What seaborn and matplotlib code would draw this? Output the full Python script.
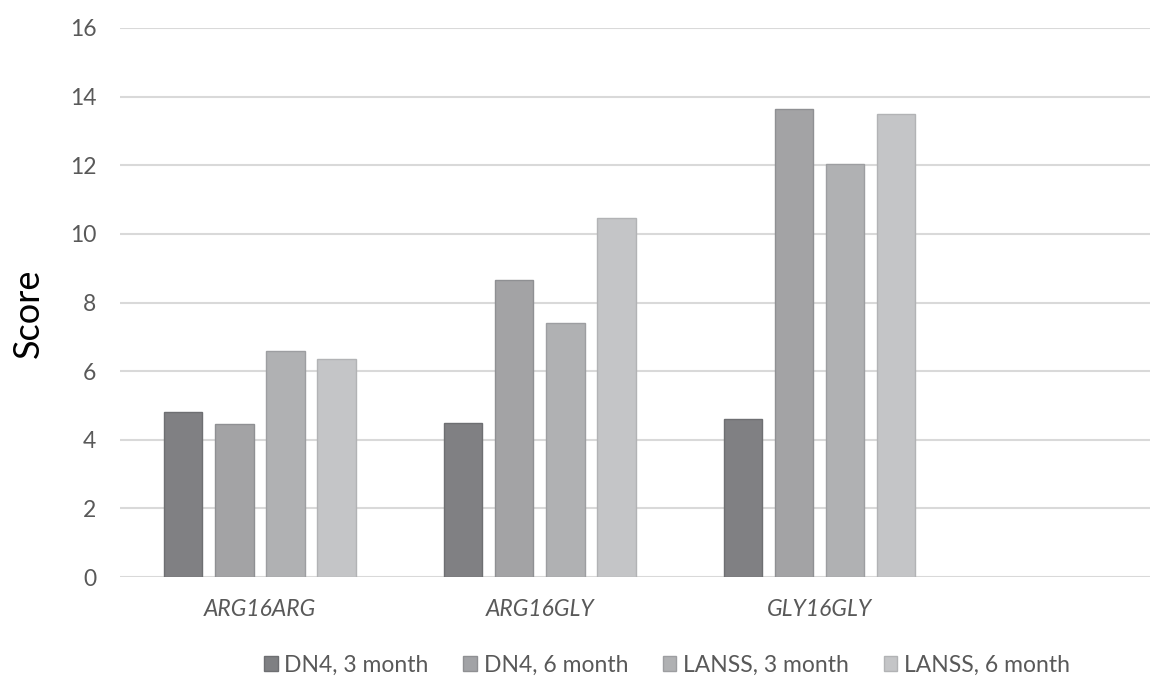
import pandas as pd
import numpy as np
import seaborn as sns
import matplotlib.pyplot as plt

# data
genotypes = ['ARG16ARG', 'ARG16GLY', 'GLY16GLY']
series = ['DN4, 3 month', 'DN4, 6 month', 'LANSS, 3 month', 'LANSS, 6 month']
dn4_3m = [4.8, 4.5, 4.6]
dn4_6m = [4.45, 8.65, 13.65]
lanss_3m = [6.6, 7.4, 12.05]
lanss_6m = [6.35, 10.45, 13.5]
colors = ['#7f8083', '#a2a3a6', '#b0b1b3', '#c4c5c7']
edges = ['#6e6f72', '#8f9093', '#9d9ea1', '#b2b3b5']

df = pd.DataFrame({'genotype': genotypes * 4,
                   'series': np.repeat(series, 3),
                   'score': dn4_3m + dn4_6m + lanss_3m + lanss_6m})

sns.set_theme(style='white')
plt.rcParams['font.family'] = ['Lato', 'DejaVu Sans']

fig = plt.figure(figsize=(11.5, 6.76), dpi=100)
ax = fig.add_axes([0.1043, 0.1464, 0.8957, 0.8122])

sns.barplot(data=df, x='genotype', y='score', hue='series', order=genotypes,
            hue_order=series, palette=colors, width=0.73, gap=0.25,
            ax=ax, legend=False, zorder=3)

# outline each series slightly darker
for cont, ec in zip(ax.containers, edges):
    for bar in cont:
        bar.set_edgecolor(ec)
        bar.set_linewidth(1)

ax.set_xlim(-0.5, 3.18)
ax.set_ylim(0, 16)
ax.set_yticks(range(0, 17, 2))
ax.yaxis.grid(True, color='#d9d9d9', linewidth=1.5, zorder=0)
ax.set_axisbelow(True)
for s in ax.spines.values():
    s.set_visible(False)

ax.tick_params(axis='y', length=0, pad=17, labelsize=16.5, labelcolor='#595959')
ax.tick_params(axis='x', length=0, pad=16, labelsize=16.5, labelcolor='#595959')
for t in ax.get_xticklabels():
    t.set_fontstyle('italic')

ax.set_xlabel('')
ax.set_ylabel('Score', fontsize=26, color='black')
ax.yaxis.set_label_coords(-0.073, 0.48)

handles = [plt.Rectangle((0, 0), 1, 1, facecolor=c, edgecolor=e) for c, e in zip(colors, edges)]
fig.legend(handles, series, loc='center', bbox_to_anchor=(0.58, 0.016), ncol=4,
           frameon=False, fontsize=16.5, handlelength=0.6, handleheight=0.6,
           handletextpad=0.3, columnspacing=1.5, labelcolor='#595959')

plt.savefig('out.png', dpi=100)
